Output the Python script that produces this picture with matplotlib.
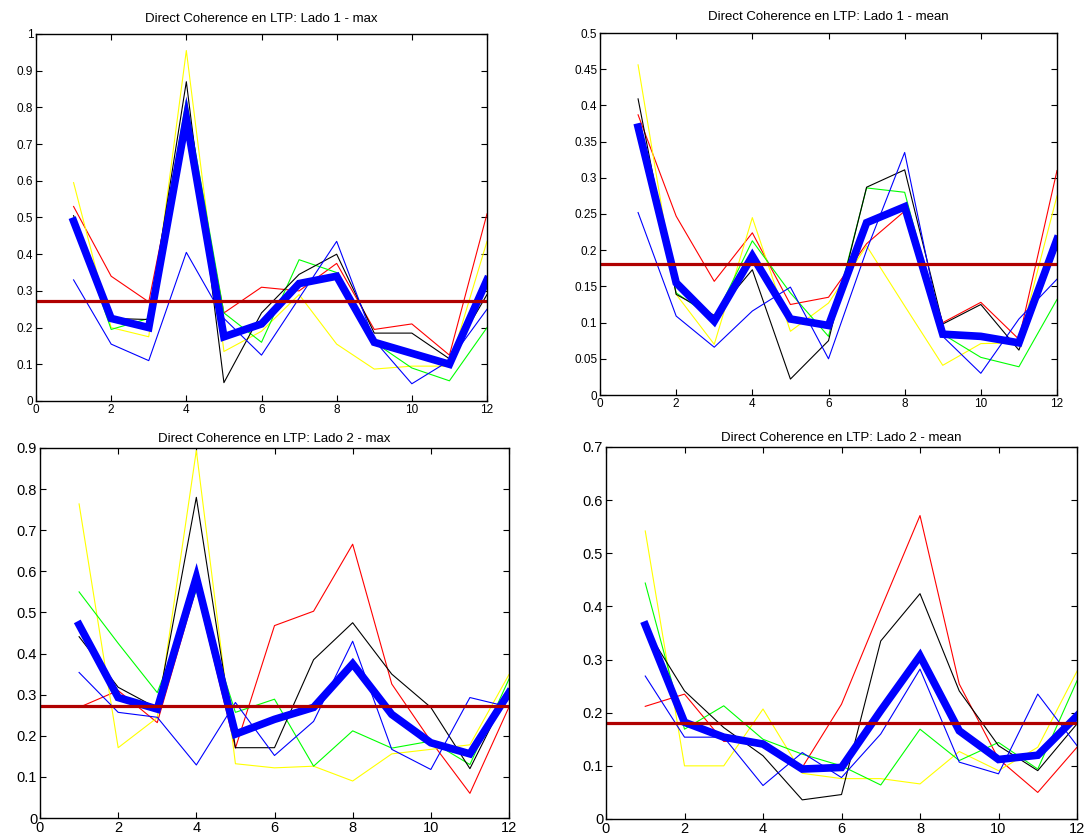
import matplotlib
matplotlib.use("Agg")
import matplotlib.pyplot as plt

plt.rcParams['font.family'] = ['Liberation Sans', 'DejaVu Sans']

x = list(range(1, 13))

# Panel 1: Lado 1 - max
p1_red    = [0.53, 0.34, 0.27, 0.78, 0.24, 0.31, 0.30, 0.375, 0.195, 0.21, 0.125, 0.51]
p1_yellow = [0.595, 0.20, 0.175, 0.955, 0.135, 0.19, 0.29, 0.155, 0.087, 0.095, 0.095, 0.435]
p1_green  = [0.49, 0.195, 0.225, 0.82, 0.24, 0.16, 0.385, 0.35, 0.16, 0.09, 0.055, 0.20]
p1_black  = [0.505, 0.225, 0.222, 0.87, 0.05, 0.24, 0.345, 0.40, 0.185, 0.185, 0.115, 0.29]
p1_blue   = [0.33, 0.155, 0.11, 0.405, 0.225, 0.125, 0.28, 0.435, 0.165, 0.047, 0.11, 0.25]
p1_mean   = [0.49, 0.225, 0.20, 0.77, 0.175, 0.21, 0.32, 0.34, 0.16, 0.13, 0.10, 0.33]
p1_thr    = 0.272

# Panel 2: Lado 1 - mean
p2_red    = [0.387, 0.247, 0.157, 0.224, 0.125, 0.135, 0.209, 0.254, 0.10, 0.128, 0.077, 0.31]
p2_yellow = [0.456, 0.139, 0.07, 0.245, 0.088, 0.127, 0.206, 0.123, 0.041, 0.071, 0.072, 0.275]
p2_green  = [0.37, 0.141, 0.105, 0.213, 0.141, 0.081, 0.286, 0.28, 0.084, 0.052, 0.039, 0.132]
p2_black  = [0.409, 0.139, 0.11, 0.173, 0.022, 0.075, 0.287, 0.311, 0.098, 0.125, 0.062, 0.205]
p2_blue   = [0.252, 0.109, 0.066, 0.116, 0.149, 0.05, 0.20, 0.335, 0.081, 0.03, 0.105, 0.16]
p2_mean   = [0.37, 0.155, 0.102, 0.192, 0.105, 0.096, 0.238, 0.26, 0.084, 0.081, 0.072, 0.215]
p2_thr    = 0.181

# Panel 3: Lado 2 - max
p3_red    = [0.269, 0.31, 0.232, 0.56, 0.17, 0.468, 0.503, 0.666, 0.326, 0.187, 0.06, 0.27]
p3_yellow = [0.764, 0.171, 0.244, 0.894, 0.132, 0.122, 0.126, 0.09, 0.156, 0.167, 0.178, 0.349]
p3_green  = [0.55, 0.425, 0.305, 0.554, 0.257, 0.289, 0.126, 0.212, 0.17, 0.187, 0.13, 0.338]
p3_black  = [0.441, 0.318, 0.267, 0.78, 0.171, 0.171, 0.385, 0.475, 0.35, 0.269, 0.12, 0.31]
p3_blue   = [0.354, 0.257, 0.245, 0.129, 0.281, 0.152, 0.235, 0.43, 0.167, 0.118, 0.293, 0.27]
p3_mean   = [0.47, 0.293, 0.265, 0.585, 0.204, 0.24, 0.269, 0.375, 0.252, 0.183, 0.156, 0.305]
p3_thr    = 0.273

# Panel 4: Lado 2 - mean
p4_red    = [0.212, 0.235, 0.146, 0.147, 0.097, 0.216, 0.395, 0.571, 0.254, 0.113, 0.05, 0.135]
p4_yellow = [0.542, 0.10, 0.10, 0.207, 0.086, 0.076, 0.076, 0.066, 0.127, 0.091, 0.135, 0.278]
p4_green  = [0.444, 0.169, 0.213, 0.15, 0.122, 0.10, 0.064, 0.169, 0.11, 0.144, 0.094, 0.26]
p4_black  = [0.36, 0.241, 0.172, 0.119, 0.036, 0.046, 0.335, 0.424, 0.241, 0.138, 0.091, 0.179]
p4_blue   = [0.269, 0.154, 0.154, 0.063, 0.125, 0.078, 0.16, 0.282, 0.107, 0.085, 0.235, 0.138]
p4_mean   = [0.365, 0.182, 0.154, 0.141, 0.094, 0.097, 0.204, 0.307, 0.166, 0.112, 0.12, 0.194]
p4_thr    = 0.18

titles = ["Direct Coherence en LTP: Lado 1 - max",
          "Direct Coherence en LTP: Lado 1 - mean",
          "Direct Coherence en LTP: Lado 2 - max",
          "Direct Coherence en LTP: Lado 2 - mean"]
ylims = [1.0, 0.5, 0.9, 0.7]
ysteps = [0.1, 0.05, 0.1, 0.1]

panels = [
    (p1_red, p1_yellow, p1_green, p1_black, p1_blue, p1_mean, p1_thr),
    (p2_red, p2_yellow, p2_green, p2_black, p2_blue, p2_mean, p2_thr),
    (p3_red, p3_yellow, p3_green, p3_black, p3_blue, p3_mean, p3_thr),
    (p4_red, p4_yellow, p4_green, p4_black, p4_blue, p4_mean, p4_thr),
]

W, H = 1084, 839
# axes boxes in pixels (left, top, right, bottom)
boxes = [(36, 34, 487, 401), (600, 33, 1057, 395), (40, 448, 509, 818), (606, 447, 1077, 819)]
tick_fs = [8.5, 8.5, 10.5, 10.5]
title_fs = [9.5, 9.5, 9.5, 9.5]
title_pad = [9, 9, 4, 4]

fig = plt.figure(figsize=(W / 100, H / 100), dpi=100)
for i, (box, data) in enumerate(zip(boxes, panels)):
    l, t, r, b = box
    ax = fig.add_axes([l / W, 1 - b / H, (r - l) / W, (b - t) / H])
    red, yellow, green, black, blue, mean, thr = data
    ax.plot(x, red, color='#ff0000', lw=0.8)
    ax.plot(x, yellow, color='#ffff00', lw=0.8)
    ax.plot(x, green, color='#00ff00', lw=0.8)
    ax.plot(x, black, color='#000000', lw=0.8)
    ax.plot(x, blue, color='#0000ff', lw=0.8)
    ax.plot(x, mean, color='#0000ff', lw=5.5, solid_joinstyle='miter')
    ax.axhline(thr, color='#b00000', lw=2.3)
    ax.set_xlim(0, 12)
    ax.set_ylim(0, ylims[i])
    ax.set_xticks(range(0, 13, 2))
    n = int(round(ylims[i] / ysteps[i]))
    yt = [round(k * ysteps[i], 2) for k in range(n + 1)]
    ax.set_yticks(yt)
    ax.set_yticklabels([('%g' % v) for v in yt])
    ax.tick_params(direction='in', top=True, right=True, length=4, width=0.8,
                   labelsize=tick_fs[i], pad=2)
    for s in ax.spines.values():
        s.set_linewidth(1.0)
    ax.set_title(titles[i], fontsize=title_fs[i], pad=title_pad[i])

fig.savefig("out.png", dpi=100)
